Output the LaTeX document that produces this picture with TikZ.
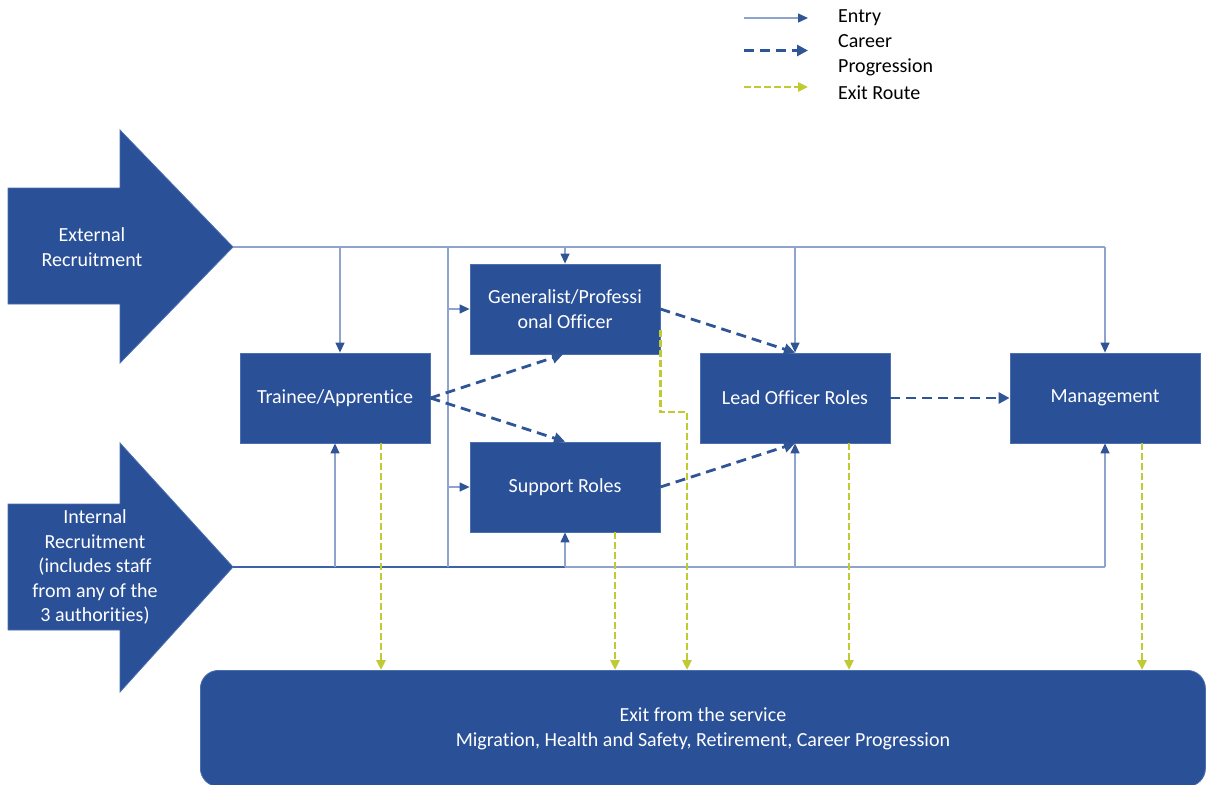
\documentclass[tikz,border=0pt]{standalone}
\usepackage{fontspec}
\setmainfont[Ligatures=NoCommon]{Carlito}
\usetikzlibrary{arrows.meta}

\definecolor{roleblue}{HTML}{2A5098}
\definecolor{roleedge}{HTML}{4C6FAF}
\definecolor{entrycol}{HTML}{8EA4CF}
\definecolor{entrydark}{HTML}{3E62A6}
\definecolor{tipblue}{HTML}{2F5597}
\definecolor{exitgreen}{HTML}{C0CB34}

\tikzset{
  role/.style={draw=roleedge, line width=0.8pt, fill=roleblue, text=white,
    minimum width=190pt, minimum height=90pt, inner sep=0pt, align=center,
    font=\fontsize{20}{25}\selectfont},
  bigarrow/.style={fill=roleblue, draw=roleedge, line width=0.8pt},
  arrowtext/.style={text=white, inner sep=0pt, align=center,
    font=\fontsize{20}{24.5}\selectfont},
  entryline/.style={draw=entrycol, line width=1.3pt},
  entry/.style={entryline, -{Triangle[length=10pt,width=9pt,color=tipblue]}},
  career/.style={draw=tipblue, line width=2.8pt, dash pattern=on 10pt off 6pt,
    -{Triangle[length=11pt,width=11pt]}},
  exitroute/.style={draw=exitgreen, line width=2.5pt, dash pattern=on 7pt off 3pt,
    -{Triangle[length=10pt,width=9pt]}},
  legtext/.style={anchor=west, inner sep=0pt, align=left,
    font=\fontsize{20}{25}\selectfont},
}

\begin{document}
\begin{tikzpicture}[x=1pt,y=-1pt]
  \pgfmathsetmacro{\ytop}{247}
  \pgfmathsetmacro{\ybot}{567}
  \pgfmathsetmacro{\xspine}{448}
  \useasboundingbox (0,0) rectangle (1206,784);
  \clip (0,0) rectangle (1206,784);

  % recruitment arrows
  \path[bigarrow] (8,188) -- (120,188) -- (120,130) -- (233,\ytop)
    -- (120,363) -- (120,304) -- (8,304) -- cycle;
  \path[bigarrow] (8,504) -- (120,504) -- (120,443) -- (233,\ybot)
    -- (120,692) -- (120,630) -- (8,630) -- cycle;
  \node[arrowtext] (ext) at (92,\ytop) {External\\Recruitment};
  \node[arrowtext] (int) at (95,\ybot) {Internal\\Recruitment\\(includes staff\\from any of the\\3 authorities)};
  \coordinate (exttip) at (233,\ytop);
  \coordinate (inttip) at (233,\ybot);

  % roles
  \node[role] (trainee) at (335,398) {Trainee/Apprentice};
  \node[role] (gen) at (565,309) {Generalist/Professi\\onal Officer};
  \node[role] (support) at (565,487) {Support Roles};
  \node[role] (lead) at (795,398) {Lead Officer Roles};
  \node[role] (mgmt) at (1105,398) {Management};
  \node[role, rounded corners=18pt, minimum width=1005pt, minimum height=116pt,
    anchor=north west] (exit) at (200,670)
    {Exit from the service\\Migration, Health and Safety, Retirement, Career Progression};

  % entry routes
  \coordinate (spinetop) at (\xspine,\ytop);
  \coordinate (spinebot) at (\xspine,\ybot);
  \draw[entryline] (exttip) -- (mgmt.north |- exttip);
  \draw[entryline] (inttip) -- (mgmt.south |- inttip);
  \draw[entryline, draw=entrydark] (inttip) -- (support.south |- inttip);
  \draw[entryline] (spinetop) -- (spinebot);
  \draw[entry] ([xshift=5pt]trainee.north |- exttip) -- ([xshift=5pt]trainee.north);
  \foreach \nd in {gen, lead, mgmt}
    \draw[entry] (\nd.north |- exttip) -- (\nd.north);
  \foreach \nd in {trainee, support, lead, mgmt}
    \draw[entry] (\nd.south |- inttip) -- (\nd.south);
  \draw[entry] (spinetop |- gen.west) -- (gen.west);
  \draw[entry] (spinetop |- support.west) -- (support.west);

  % career progression
  \draw[career] (trainee.east) -- ([xshift=-2pt]gen.south);
  \draw[career] (trainee.east) -- (support.north);
  \draw[career] (gen.east) -- (lead.north);
  \draw[career] (support.east) -- (lead.south);
  \draw[career] (lead.east) -- (mgmt.west);

  % exit routes
  \foreach \nd/\dx in {trainee/46, support/50, lead/54, mgmt/37} {
    \coordinate (\nd out) at ([xshift=\dx pt]\nd.south);
    \draw[exitroute] (\nd out) -- (\nd out |- exit.north);
  }
  \coordinate (genbend) at (687,412);
  \draw[exitroute] ([yshift=-21pt]gen.east) |- (genbend) -- (genbend |- exit.north);

  % legend
  \node[legtext] (legentry) at (838,18) {Entry};
  \node[legtext] (legcareer) at (838,55.5) {Career\\Progression};
  \node[legtext] (legexit) at (838,93) {Exit Route};
  \draw[entry] ([xshift=-94pt]legentry.west) -- ([xshift=-30pt]legentry.west);
  \draw[career] ([xshift=-94pt,yshift=5pt]legcareer.west) -- ([xshift=-30pt,yshift=5pt]legcareer.west);
  \draw[exitroute] ([xshift=-94pt,yshift=6pt]legexit.west) -- ([xshift=-30pt,yshift=6pt]legexit.west);
\end{tikzpicture}
\end{document}
